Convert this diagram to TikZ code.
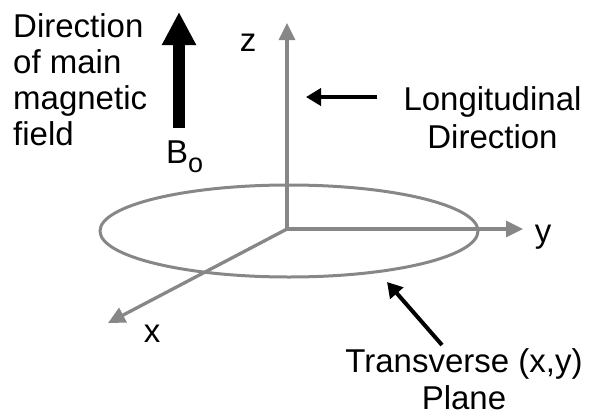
\documentclass[tikz,border=0pt]{standalone}
\usepackage{fontspec}
\setmainfont{Liberation Sans}
\usetikzlibrary{arrows.meta}
\definecolor{axisgray}{RGB}{135,135,135}
\begin{document}
\begin{tikzpicture}[x=1pt,y=-1pt,
  lbl/.style={inner sep=0pt,font=\fontsize{33}{36}\selectfont},
  axis/.style={draw=axisgray,line width=3.3pt,-{Triangle[length=17pt,width=16pt]}},
  pointer/.style={draw=black,line width=4pt,-{Triangle[length=15pt,width=17pt]}},
  plane/.style={draw=axisgray,line width=3pt}]
\useasboundingbox (0,0) rectangle (590,416);
% coordinates
\coordinate (O) at (287,229);
\coordinate (ztip) at (287,23);
\coordinate (ytip) at (523,229);
\coordinate (xtip) at (108,323);
% plane
\draw[plane] (289,231) ellipse [x radius=189, y radius=46];
% axes
\draw[axis] (O) -- (ztip);
\draw[axis] (O) -- (ytip);
\draw[axis] (O) -- (xtip);
% axis labels
\node[lbl,anchor=base] (zl) at (248,51) {z};
\node[lbl,anchor=base] (yl) at (543,242) {y};
\node[lbl,anchor=base] (xl) at (152,342) {x};
% main field text
\node[lbl,anchor=north west,align=left,font=\fontsize{33}{36}\selectfont] (main) at (13,13.4)
  {Direction\\of main\\magnetic\\field};
% B0 arrow
\node[lbl,anchor=base west] (B0) at (166,163) {B\raisebox{-9pt}{\fontsize{27}{27}\selectfont o}};
\coordinate (Bbot) at (179,128);
\coordinate (Btip) at (179,12);
\draw[line width=12pt,-{Triangle[length=33pt,width=32pt]}] (Bbot) -- (Btip);
% longitudinal
\node[lbl,anchor=north,align=center,font=\fontsize{33}{38}\selectfont] (long) at (492.5,86.4)
  {Longitudinal\\Direction};
\coordinate (lstart) at (377,97);
\coordinate (lend) at (306,97);
\draw[pointer] (lstart) -- (lend);
% transverse
\node[lbl,anchor=north,align=center,font=\fontsize{33}{37}\selectfont] (trans) at (464,348)
  {Transverse (x,y)\\Plane};
\coordinate (tstart) at (442,345);
\coordinate (tend) at (387,282);
\draw[pointer] (tstart) -- (tend);
\end{tikzpicture}
\end{document}
